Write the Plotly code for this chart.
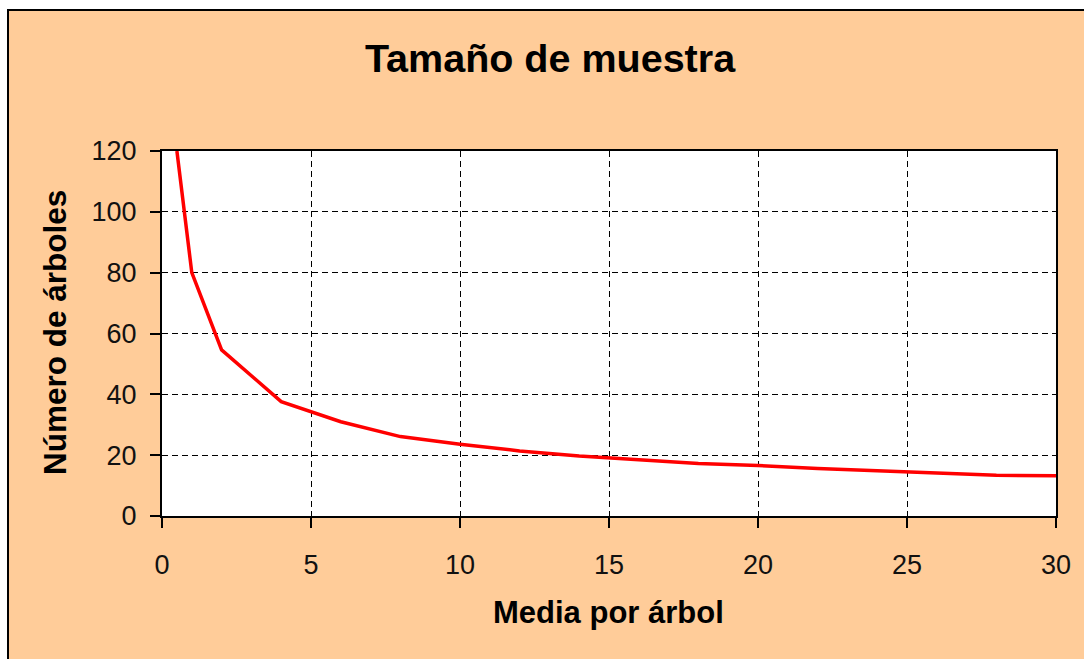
import plotly.graph_objects as go

# Mean count per tree and the number of trees to sample
media_por_arbol = [0.5, 1, 2, 4, 6, 8, 10, 12, 14, 16, 18, 20, 22, 24, 26, 28, 30]
numero_arboles = [120, 80, 54.6, 37.6, 31.0, 26.1, 23.6, 21.4, 19.7, 18.6, 17.3,
                  16.6, 15.6, 14.9, 14.1, 13.4, 13.2]

x_ticks = [0, 5, 10, 15, 20, 25, 30]
y_ticks = [0, 20, 40, 60, 80, 100, 120]

titulo = "Tamaño de muestra"
titulo_x = "Media por árbol"
titulo_y = "Número de árboles"

W, H = 1084, 659
L, R, T, B = 162, 1056, 151, 516  # plot area in page pixels
PEACH = "#FFCC99"


def px_x(p):
    return (p - L) / (R - L)


def px_y(p):
    return (B - p) / (B - T)


fig = go.Figure()
fig.add_trace(go.Scatter(
    x=media_por_arbol, y=numero_arboles, mode="lines",
    line=dict(color="#FF0000", width=3.5), showlegend=False,
    hoverinfo="x+y",
))

axis_common = dict(
    showline=True, linecolor="black", linewidth=2, mirror=True,
    ticks="outside", ticklen=10, tickwidth=1.5, tickcolor="black",
    showgrid=True, gridcolor="black", gridwidth=1.2, griddash="6px,4px",
    zeroline=False,
    tickfont=dict(family="Liberation Sans, Arial, sans-serif", size=27, color="#111"),
)

fig.update_xaxes(range=[0, 30], tickvals=x_ticks, ticklabelstandoff=14, **axis_common)
fig.update_yaxes(range=[0, 120], tickvals=y_ticks, ticklabelstandoff=8, **axis_common)

shapes = [
    # chart area with its black frame
    dict(type="rect", xref="paper", yref="paper", layer="below",
         x0=px_x(8), x1=px_x(1110), y0=px_y(700), y1=px_y(10),
         fillcolor=PEACH, line=dict(color="black", width=2)),
    # white plot area
    dict(type="rect", xref="paper", yref="paper", layer="below",
         x0=0, x1=1, y0=0, y1=1, fillcolor="white", line=dict(width=0)),
]

bold = dict(family="Liberation Sans, Arial, sans-serif", color="black")
annotations = [
    dict(text=f"<b>{titulo_x}</b>", xref="paper", yref="paper",
         x=px_x(608), y=px_y(612), xanchor="center", yanchor="middle",
         showarrow=False, font=dict(size=31, **bold)),
    dict(text=f"<b>{titulo_y}</b>", xref="paper", yref="paper",
         x=px_x(55), y=px_y(333), xanchor="center", yanchor="middle",
         textangle=-90, showarrow=False, font=dict(size=31.5, **bold)),
]

fig.update_layout(
    width=W, height=H,
    margin=dict(l=L, r=W - R, t=T, b=H - B, pad=0),
    paper_bgcolor="white", plot_bgcolor="rgba(0,0,0,0)",
    title=dict(text=f"<b>{titulo}</b>", x=550 / W, xanchor="center",
               y=1 - 58 / H, yanchor="middle",
               font=dict(size=39.5, **bold)),
    shapes=shapes, annotations=annotations,
    showlegend=False,
)

fig.write_html("out.html")
